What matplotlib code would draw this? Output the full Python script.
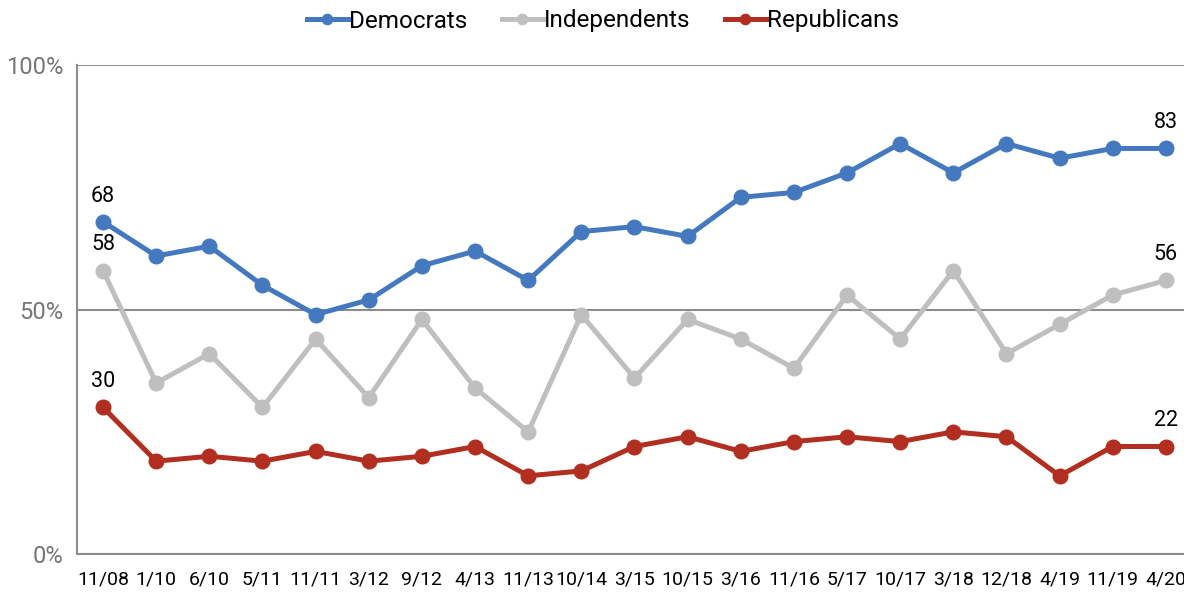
import matplotlib
matplotlib.use("Agg")
import matplotlib.pyplot as plt

plt.rcParams['font.family'] = ['Roboto', 'DejaVu Sans']

categories = ["11/08", "1/10", "6/10", "5/11", "11/11", "3/12", "9/12", "4/13", "11/13",
              "10/14", "3/15", "10/15", "3/16", "11/16", "5/17", "10/17", "3/18", "12/18",
              "4/19", "11/19", "4/20"]
democrats = [68, 61, 63, 55, 49, 52, 59, 62, 56, 66, 67, 65, 73, 74, 78, 84, 78, 84, 81, 83, 83]
independents = [58, 35, 41, 30, 44, 32, 48, 34, 25, 49, 36, 48, 44, 38, 53, 44, 58, 41, 47, 53, 56]
republicans = [30, 19, 20, 19, 21, 19, 20, 22, 16, 17, 22, 24, 21, 23, 24, 23, 25, 24, 16, 22, 22]
yticks = [0, 50, 100]
ytick_labels = ["0%", "50%", "100%"]

series = [
    ("Democrats", democrats, "#4479BF"),
    ("Independents", independents, "#BFBFBF"),
    ("Republicans", republicans, "#B12E20"),
]

fig = plt.figure(figsize=(11.84, 5.92), dpi=100)
ax = fig.add_axes([77/1184, 38/592, 1 - 77/1184, (554.3-65.7)/592])

x = list(range(len(categories)))
for name, vals, color in series:
    ax.plot(x, vals, color=color, lw=3.6, marker='o', markersize=10.5,
            label=name, solid_joinstyle='round', zorder=3)
    for i in (0, len(vals) - 1):
        ax.annotate(str(vals[i]), (x[i], vals[i]), xytext=(0, 14.5),
                    textcoords='offset points', ha='center', va='baseline',
                    fontsize=15.5, color='#000000', zorder=4)

ax.set_xlim(-0.49, 20.34)
ax.set_ylim(0, 100)
ax.set_yticks(yticks)
ax.set_yticklabels(ytick_labels)
ax.set_xticks(x)
ax.set_xticklabels(categories)
ax.tick_params(axis='y', length=0, pad=10, labelsize=17, labelcolor='#767676')
ax.tick_params(axis='x', length=0, pad=12, labelsize=14, labelcolor='#000000')
ax.yaxis.grid(True, color='#8C8C8C', lw=1.5)
ax.set_axisbelow(True)
for s in ['top', 'right']:
    ax.spines[s].set_visible(False)
for s in ['left', 'bottom']:
    ax.spines[s].set_color('#8C8C8C')
    ax.spines[s].set_linewidth(1.5)

fig.legend(loc='center', bbox_to_anchor=(603/1184, 1 - 21/592), ncol=3, frameon=False,
           fontsize=17.5, handlelength=1.7, handletextpad=0.05, columnspacing=1.4,
           markerscale=0.7)

fig.savefig("out.png", dpi=100)
